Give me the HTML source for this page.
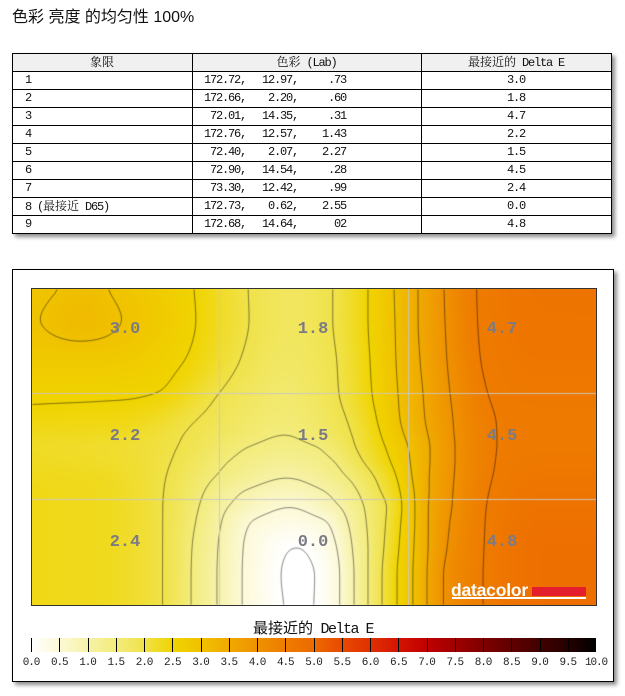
<!DOCTYPE html>
<html><head><meta charset="utf-8">
<style>
html,body{margin:0;padding:0;background:#fff;}
body{width:625px;height:696px;position:relative;overflow:hidden;}
.a{position:absolute;}
.m{position:absolute;font:12px/18px "Liberation Mono","Noto Serif CJK SC",monospace;letter-spacing:-1.2px;color:#111;white-space:pre;height:18px;}
.c{letter-spacing:0;font-family:"Noto Serif CJK SC","Liberation Serif",serif;}
.r{text-align:right;}
.ctr{text-align:center;}
.hl{position:absolute;left:0;width:598px;height:1px;background:#000;}
.vl{position:absolute;top:0;width:1px;height:179px;background:#000;}
.lab{position:absolute;width:60px;text-align:center;font:bold 17px/20px "Liberation Mono",monospace;color:#7b7b85;}
.tk{position:absolute;top:638px;width:1px;height:14px;background:#000;}
.tl{position:absolute;top:656px;width:40px;text-align:center;font:11px/14px "Liberation Mono",monospace;letter-spacing:-1.1px;color:#222;white-space:pre;}
</style></head>
<body>
<div class="a" style="left:12px;top:8px;font:16px/20px 'Liberation Sans','Noto Sans CJK SC',sans-serif;color:#111;white-space:pre;">色彩 亮度 的均匀性 100%</div>

<!-- table -->
<div class="a" style="left:12px;top:53px;width:598px;height:179px;border:1px solid #000;background:#fff;box-shadow:3px 3px 4px rgba(0,0,0,0.45);">
  <div class="a" style="left:0;top:0;width:598px;height:17px;background:#f0f0f0;"></div>
  <div class="hl" style="top:17px"></div>
  <div class="hl" style="top:35px"></div>
  <div class="hl" style="top:53px"></div>
  <div class="hl" style="top:71px"></div>
  <div class="hl" style="top:89px"></div>
  <div class="hl" style="top:107px"></div>
  <div class="hl" style="top:125px"></div>
  <div class="hl" style="top:143px"></div>
  <div class="hl" style="top:161px"></div>
  <div class="vl" style="left:179px"></div>
  <div class="vl" style="left:408px"></div>
</div>
<div class="m ctr" style="left:12px;top:53px;width:180px;"><span class="c">象限</span></div>
<div class="m ctr" style="left:192px;top:53px;width:229px;"><span class="c">色彩</span> (Lab)</div>
<div class="m ctr" style="left:421px;top:53px;width:190px;"><span class="c">最接近的</span> Delta E</div>

<div class="m" style="left:25px;top:71px;">1</div>
<div class="m r" style="left:186px;top:71px;width:60px;">172.72,</div>
<div class="m r" style="left:248px;top:71px;width:50px;">12.97,</div>
<div class="m r" style="left:300px;top:71px;width:46px;">.73</div>
<div class="m ctr" style="left:421px;top:71px;width:190px;">3.0</div>

<div class="m" style="left:25px;top:89px;">2</div>
<div class="m r" style="left:186px;top:89px;width:60px;">172.66,</div>
<div class="m r" style="left:248px;top:89px;width:50px;">2.20,</div>
<div class="m r" style="left:300px;top:89px;width:46px;">.60</div>
<div class="m ctr" style="left:421px;top:89px;width:190px;">1.8</div>

<div class="m" style="left:25px;top:107px;">3</div>
<div class="m r" style="left:186px;top:107px;width:60px;">72.01,</div>
<div class="m r" style="left:248px;top:107px;width:50px;">14.35,</div>
<div class="m r" style="left:300px;top:107px;width:46px;">.31</div>
<div class="m ctr" style="left:421px;top:107px;width:190px;">4.7</div>

<div class="m" style="left:25px;top:125px;">4</div>
<div class="m r" style="left:186px;top:125px;width:60px;">172.76,</div>
<div class="m r" style="left:248px;top:125px;width:50px;">12.57,</div>
<div class="m r" style="left:300px;top:125px;width:46px;">1.43</div>
<div class="m ctr" style="left:421px;top:125px;width:190px;">2.2</div>

<div class="m" style="left:25px;top:143px;">5</div>
<div class="m r" style="left:186px;top:143px;width:60px;">72.40,</div>
<div class="m r" style="left:248px;top:143px;width:50px;">2.07,</div>
<div class="m r" style="left:300px;top:143px;width:46px;">2.27</div>
<div class="m ctr" style="left:421px;top:143px;width:190px;">1.5</div>

<div class="m" style="left:25px;top:161px;">6</div>
<div class="m r" style="left:186px;top:161px;width:60px;">72.90,</div>
<div class="m r" style="left:248px;top:161px;width:50px;">14.54,</div>
<div class="m r" style="left:300px;top:161px;width:46px;">.28</div>
<div class="m ctr" style="left:421px;top:161px;width:190px;">4.5</div>

<div class="m" style="left:25px;top:179px;">7</div>
<div class="m r" style="left:186px;top:179px;width:60px;">73.30,</div>
<div class="m r" style="left:248px;top:179px;width:50px;">12.42,</div>
<div class="m r" style="left:300px;top:179px;width:46px;">.99</div>
<div class="m ctr" style="left:421px;top:179px;width:190px;">2.4</div>

<div class="m" style="left:25px;top:197px;">8 (<span class="c">最接近</span> D65)</div>
<div class="m r" style="left:186px;top:197px;width:60px;">172.73,</div>
<div class="m r" style="left:248px;top:197px;width:50px;">0.62,</div>
<div class="m r" style="left:300px;top:197px;width:46px;">2.55</div>
<div class="m ctr" style="left:421px;top:197px;width:190px;">0.0</div>

<div class="m" style="left:25px;top:215px;">9</div>
<div class="m r" style="left:186px;top:215px;width:60px;">172.68,</div>
<div class="m r" style="left:248px;top:215px;width:50px;">14.64,</div>
<div class="m r" style="left:300px;top:215px;width:46px;">02</div>
<div class="m ctr" style="left:421px;top:215px;width:190px;">4.8</div>

<!-- chart panel -->
<div class="a" style="left:12px;top:269px;width:600px;height:411px;border:1px solid #000;background:#fff;box-shadow:3px 3px 4px rgba(0,0,0,0.45);"></div>
<div class="a" style="left:31px;top:288px;width:564px;height:316px;border:1px solid #333;background:linear-gradient(to right,#f0d200 0%,#f0dc30 30%,#f2ea70 48%,#f0d000 62%,#f0a000 75%,#ee7800 85%,#ee7600 100%);">
  <canvas id="cv" width="564" height="316" style="position:absolute;left:0;top:0;width:564px;height:316px;"></canvas>
</div>

<div class="lab" style="left:95px;top:320px;">3.0</div>
<div class="lab" style="left:283px;top:320px;">1.8</div>
<div class="lab" style="left:472px;top:320px;">4.7</div>
<div class="lab" style="left:95px;top:427px;">2.2</div>
<div class="lab" style="left:283px;top:427px;">1.5</div>
<div class="lab" style="left:472px;top:427px;">4.5</div>
<div class="lab" style="left:95px;top:533px;">2.4</div>
<div class="lab" style="left:283px;top:533px;">0.0</div>
<div class="lab" style="left:472px;top:533px;">4.8</div>

<!-- datacolor logo -->
<div class="a" style="left:451px;top:580px;font:bold 17.5px/20px 'Liberation Sans',sans-serif;color:#fff;letter-spacing:-0.2px;">datacolor</div>
<div class="a" style="left:532px;top:587px;width:54px;height:9px;background:#e31e2d;"></div>
<div class="a" style="left:452px;top:597px;width:134px;height:2px;background:#fff;"></div>

<!-- colorbar -->
<div class="a" style="left:213px;top:619px;width:200px;text-align:center;white-space:pre;line-height:18px;color:#111;"><span style="font:15px/18px 'Noto Sans CJK SC','Liberation Sans',sans-serif;">最接近的</span><span style="font:15px/18px 'Liberation Mono',monospace;letter-spacing:-1.5px;"> Delta E</span></div>
<div id="cb" class="a" style="left:31px;top:638px;width:565px;height:14px;background:linear-gradient(to right,#ffffff 0%,#f0d400 25%,#ee7c00 45%,#c00000 70%,#000 100%);"></div>
<div id="ticks"></div>
<div class="tl" style="left:11px;">0.0</div>
<div class="tl" style="left:39.25px;">0.5</div>
<div class="tl" style="left:67.5px;">1.0</div>
<div class="tl" style="left:95.75px;">1.5</div>
<div class="tl" style="left:124px;">2.0</div>
<div class="tl" style="left:152.25px;">2.5</div>
<div class="tl" style="left:180.5px;">3.0</div>
<div class="tl" style="left:208.75px;">3.5</div>
<div class="tl" style="left:237px;">4.0</div>
<div class="tl" style="left:265.25px;">4.5</div>
<div class="tl" style="left:293.5px;">5.0</div>
<div class="tl" style="left:321.75px;">5.5</div>
<div class="tl" style="left:350px;">6.0</div>
<div class="tl" style="left:378.25px;">6.5</div>
<div class="tl" style="left:406.5px;">7.0</div>
<div class="tl" style="left:434.75px;">7.5</div>
<div class="tl" style="left:463px;">8.0</div>
<div class="tl" style="left:491.25px;">8.5</div>
<div class="tl" style="left:519.5px;">9.0</div>
<div class="tl" style="left:547.75px;">9.5</div>
<div class="tl" style="left:576px;">10.0</div>

<script>
(function(){
var stops=[[0,'#ffffff'],[0.5,'#fcf9d6'],[1,'#f7f2a8'],[1.5,'#f3ec7c'],[2,'#f0e24a'],[2.5,'#f0d400'],[3,'#f0c200'],[3.5,'#f0aa00'],[4,'#ef9200'],[4.5,'#ee7c00'],[5,'#ed6a00'],[5.5,'#e84a00'],[6,'#e03000'],[6.5,'#d41400'],[7,'#c00000'],[7.5,'#a00000'],[8,'#800000'],[8.5,'#600000'],[9,'#420000'],[9.5,'#260000'],[10,'#000000']];
function hex(h){return [parseInt(h.substr(1,2),16),parseInt(h.substr(3,2),16),parseInt(h.substr(5,2),16)];}
var sc=stops.map(function(s){return [s[0],hex(s[1])];});
function cmap(v){
  if(v<=0)return sc[0][1];
  if(v>=10)return sc[sc.length-1][1];
  var k=Math.floor(v/0.5); var t=(v-k*0.5)/0.5; var a=sc[k][1],b=sc[k+1][1];
  return [a[0]+(b[0]-a[0])*t,a[1]+(b[1]-a[1])*t,a[2]+(b[2]-a[2])*t];
}
var g=stops.map(function(s){return s[1]+' '+(s[0]*10)+'%';}).join(',');
document.getElementById('cb').style.background='linear-gradient(to right,'+g+')';
var th='';
for(var k=0;k<=20;k++){var x=31+k*28.25; if(k==20)x=595; th+='<div class="tk" style="left:'+x.toFixed(2)+'px"></div>';}
document.getElementById('ticks').innerHTML=th;

function pchip(xs,ys){
  var n=xs.length,h=[],d=[],m=new Array(n),i;
  for(i=0;i<n-1;i++){h[i]=xs[i+1]-xs[i];d[i]=(ys[i+1]-ys[i])/h[i];}
  m[0]=d[0];m[n-1]=d[n-2];
  for(i=1;i<n-1;i++){
    if(d[i-1]*d[i]<=0)m[i]=0;
    else{var w1=2*h[i]+h[i-1],w2=h[i]+2*h[i-1];m[i]=(w1+w2)/(w1/d[i-1]+w2/d[i]);}
  }
  return function(x){
    if(x<=xs[0])return ys[0]; if(x>=xs[n-1])return ys[n-1];
    var k=0; while(x>xs[k+1])k++;
    var t=(x-xs[k])/h[k],t2=t*t,t3=t2*t;
    return (2*t3-3*t2+1)*ys[k]+(t3-2*t2+t)*h[k]*m[k]+(-2*t3+3*t2)*ys[k+1]+(t3-t2)*h[k]*m[k+1];
  };
}
var rowsY=[288,320,360,393,420,435,446,460,478,490,507,520,547,575,606];
var rows=[
 [[31,2.9],[60,3.0],[85,3.08],[107,3.0],[194,2.5],[248,2.0],[290,1.8],[333,2.0],[368,2.5],[394,3.0],[418,3.5],[444,4.0],[476,4.5],[540,4.72],[597,4.75]],
 [[31,2.97],[40,3.0],[80,3.15],[122,3.0],[196,2.5],[249,2.0],[290,1.8],[333,2.0],[368,2.5],[395,3.0],[418,3.5],[445,4.0],[477,4.5],[540,4.7],[597,4.7]],
 [[31,2.8],[100,2.8],[185,2.5],[240,2.0],[287,1.75],[337,2.0],[370,2.5],[396,3.0],[420,3.5],[447,4.0],[480,4.5],[540,4.65],[597,4.65]],
 [[31,2.56],[130,2.54],[157,2.5],[219,2.0],[285,1.65],[339,2.0],[372,2.5],[398,3.0],[423,3.5],[450,4.0],[487,4.5],[540,4.6],[597,4.6]],
 [[31,2.42],[120,2.38],[196,2.0],[285,1.58],[347,2.0],[377,2.5],[400,3.0],[425,3.5],[453,4.0],[495,4.5],[545,4.55],[597,4.55]],
 [[31,2.3],[110,2.27],[183,2.0],[285,1.5],[352,2.0],[381,2.5],[404,3.0],[428,3.5],[454,4.0],[496,4.5],[545,4.55],[597,4.55]],
 [[31,2.25],[100,2.2],[178,2.0],[250,1.5],[285,1.42],[316,1.5],[355,2.0],[385,2.5],[408,3.0],[430,3.5],[455,4.0],[496,4.5],[545,4.55],[597,4.55]],
 [[31,2.27],[100,2.22],[172,2.0],[230,1.5],[286,1.25],[333,1.5],[362,2.0],[390,2.5],[410,3.0],[430,3.5],[455,4.0],[495,4.5],[545,4.6],[597,4.6]],
 [[31,2.33],[100,2.28],[166,2.0],[214,1.5],[287,1.0],[348,1.5],[375,2.0],[397,2.5],[412,3.0],[429,3.5],[454,4.0],[492,4.5],[545,4.65],[597,4.65]],
 [[31,2.35],[100,2.3],[164,2.0],[205,1.5],[245,1.0],[288,0.82],[323,1.0],[357,1.5],[380,2.0],[400,2.5],[414,3.0],[429,3.5],[453,4.0],[489,4.5],[545,4.7],[597,4.7]],
 [[31,2.35],[100,2.3],[163,2.0],[199,1.5],[228,1.0],[290,0.5],[340,1.0],[364,1.5],[387,2.0],[402,2.5],[415,3.0],[428,3.5],[452,4.0],[486,4.5],[545,4.75],[597,4.75]],
 [[31,2.35],[100,2.3],[163,2.0],[196,1.5],[222,1.0],[252,0.5],[292,0.35],[326,0.5],[347,1.0],[366,1.5],[386,2.0],[401,2.5],[415,3.0],[428,3.5],[450,4.0],[485,4.5],[545,4.8],[597,4.8]],
 [[31,2.35],[100,2.3],[163,2.0],[192,1.5],[218,1.0],[243,0.5],[297,0.0],[337,0.5],[352,1.0],[368,1.5],[384,2.0],[399,2.5],[414,3.0],[428,3.5],[447,4.0],[484,4.5],[545,4.85],[597,4.85]],
 [[31,2.35],[100,2.3],[163,2.0],[191,1.5],[217,1.0],[242,0.5],[281,0.0],[298,-0.12],[315,0.0],[340,0.5],[354,1.0],[368,1.5],[382,2.0],[397,2.5],[413,3.0],[427,3.5],[443,4.0],[483,4.5],[545,4.85],[597,4.85]],
 [[31,2.35],[100,2.3],[163,2.0],[191,1.5],[217,1.0],[242,0.5],[284,0.0],[299,-0.1],[314,0.0],[340,0.5],[354,1.0],[368,1.5],[382,2.0],[397,2.5],[413,3.0],[427,3.5],[443,4.0],[483,4.5],[545,4.85],[597,4.85]]
];
var rf=rows.map(function(r){return pchip(r.map(function(p){return p[0];}),r.map(function(p){return p[1];}));});
var cv=document.getElementById('cv'); if(!cv.getContext)return;
var ctx=cv.getContext('2d');
var W=564,H=316,X0=32,Y0=289;
var F=new Float32Array(W*H);
for(var i=0;i<W;i++){
  var sx=X0+i+0.5; var rv=rf.map(function(f){return f(sx);});
  var cf=pchip(rowsY,rv);
  for(var j=0;j<H;j++){F[j*W+i]=cf(Y0+j+0.5);}
}
// smoothing (separable box blur, twice)
function blur(A,r){
  var T=new Float32Array(W*H),n=2*r+1,x,y,s,k;
  for(y=0;y<H;y++){for(x=0;x<W;x++){s=0;for(k=-r;k<=r;k++){var xx=x+k;if(xx<0)xx=0;if(xx>=W)xx=W-1;s+=A[y*W+xx];}T[y*W+x]=s/n;}}
  for(x=0;x<W;x++){for(y=0;y<H;y++){s=0;for(k=-r;k<=r;k++){var yy=y+k;if(yy<0)yy=0;if(yy>=H)yy=H-1;s+=T[yy*W+x];}A[y*W+x]=s/n;}}
}
blur(F,4);blur(F,4);
var img=ctx.createImageData(W,H),D=img.data;
for(var p=0;p<W*H;p++){var c=cmap(F[p]);D[p*4]=c[0];D[p*4+1]=c[1];D[p*4+2]=c[2];D[p*4+3]=255;}
ctx.putImageData(img,0,0);
ctx.strokeStyle='rgba(0,0,0,0.5)';ctx.lineWidth=1;
var levels=[0,0.5,1,1.5,2,2.5,3,3.5,4,4.5];
levels.forEach(function(L){
  ctx.beginPath();
  for(var j=0;j<H-1;j++){for(var i=0;i<W-1;i++){
    var a=F[j*W+i],b=F[j*W+i+1],c=F[(j+1)*W+i+1],d=F[(j+1)*W+i];
    var pa=a>=L,pb=b>=L,pc=c>=L,pd=d>=L;
    if(pa==pb&&pb==pc&&pc==pd)continue;
    var pts=[];
    if(pa!=pb)pts.push([i+(L-a)/(b-a),j]);
    if(pb!=pc)pts.push([i+1,j+(L-b)/(c-b)]);
    if(pc!=pd)pts.push([i+1-(L-c)/(d-c),j+1]);
    if(pd!=pa)pts.push([i,j+1-(L-d)/(a-d)]);
    if(pts.length==2){ctx.moveTo(pts[0][0]+0.5,pts[0][1]+0.5);ctx.lineTo(pts[1][0]+0.5,pts[1][1]+0.5);}
    else if(pts.length==4){
      ctx.moveTo(pts[0][0]+0.5,pts[0][1]+0.5);ctx.lineTo(pts[3][0]+0.5,pts[3][1]+0.5);
      ctx.moveTo(pts[1][0]+0.5,pts[1][1]+0.5);ctx.lineTo(pts[2][0]+0.5,pts[2][1]+0.5);
    }
  }}
  ctx.stroke();
});
ctx.fillStyle='rgba(200,200,200,0.9)';
ctx.fillRect(187,0,1,H);ctx.fillRect(376,0,1,H);
ctx.fillRect(0,104,W,1);ctx.fillRect(0,210,W,1);
})();
</script>
</body></html>
